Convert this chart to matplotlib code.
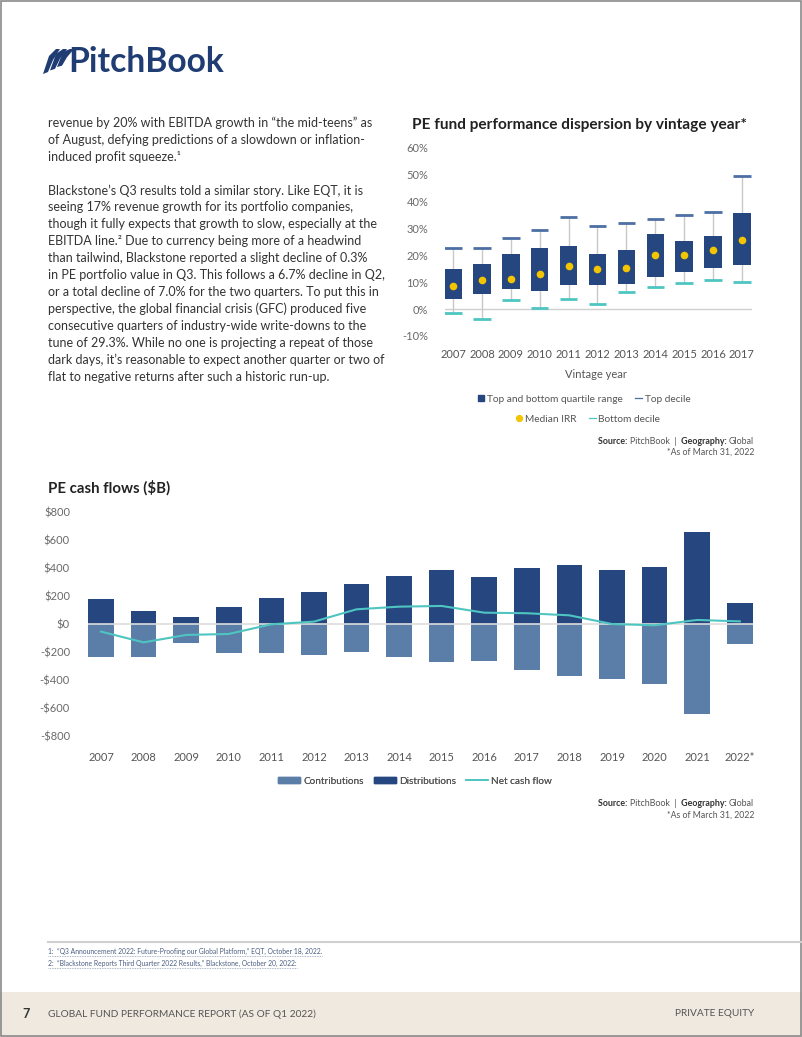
import matplotlib
matplotlib.use("Agg")
import matplotlib.pyplot as plt
from matplotlib.patches import Rectangle, Polygon, Patch
from matplotlib.lines import Line2D

# === Data: PE fund performance dispersion by vintage year (IRR %) ===
vintage_years = ["2007", "2008", "2009", "2010", "2011", "2012",
                 "2013", "2014", "2015", "2016", "2017"]
top_decile = [22.7, 22.7, 26.5, 29.4, 34.4, 30.9, 32.1, 33.6, 34.9, 36.0, 49.5]
top_quartile = [14.8, 16.8, 20.4, 22.7, 23.6, 20.7, 22.1, 27.8, 25.2, 27.2, 35.8]
median_irr = [8.6, 10.7, 11.1, 13.1, 16.0, 14.9, 15.4, 20.0, 20.0, 22.1, 25.6]
bottom_quartile = [3.7, 5.7, 7.5, 6.8, 8.8, 8.8, 9.4, 12.0, 13.8, 15.4, 16.3]
bottom_decile = [-1.6, -3.7, 3.5, 0.4, 3.8, 1.9, 6.5, 8.1, 9.6, 10.9, 10.1]
irr_ticks = [-10, 0, 10, 20, 30, 40, 50, 60]

# === Data: PE cash flows ($B) ===
cash_years = ["2007", "2008", "2009", "2010", "2011", "2012", "2013", "2014",
              "2015", "2016", "2017", "2018", "2019", "2020", "2021", "2022*"]
distributions = [179, 95, 55, 121, 186, 229, 286, 343,
                 388, 336, 402, 426, 388, 412, 660, 155]
contributions = [-236, -236, -136, -202, -202, -219, -195, -236,
                 -269, -260, -326, -369, -393, -424, -640, -140]
net_cash_flow = [-52, -129, -76, -69, 0, 19, 107, 126,
                 131, 83, 79, 64, 2, -7, 31, 21]
cash_ticks = [-800, -600, -400, -200, 0, 200, 400, 600, 800]

body_lines = [
    "revenue by 20% with EBITDA growth in \u201cthe mid-teens\u201d as",
    "of August, defying predictions of a slowdown or inflation-",
    "induced profit squeeze.\u00b9",
    "",
    "Blackstone\u2019s Q3 results told a similar story. Like EQT, it is",
    "seeing 17% revenue growth for its portfolio companies,",
    "though it fully expects that growth to slow, especially at the",
    "EBITDA line.\u00b2 Due to currency being more of a headwind",
    "than tailwind, Blackstone reported a slight decline of 0.3%",
    "in PE portfolio value in Q3. This follows a 6.7% decline in Q2,",
    "or a total decline of 7.0% for the two quarters. To put this in",
    "perspective, the global financial crisis (GFC) produced five",
    "consecutive quarters of industry-wide write-downs to the",
    "tune of 29.3%. While no one is projecting a repeat of those",
    "dark days, it\u2019s reasonable to expect another quarter or two of",
    "flat to negative returns after such a historic run-up.",
]

NAVY = "#26467f"
LIGHT = "#5b7ea8"
TEAL = "#4ec5c1"
YELLOW = "#f2c500"
TOPDEC = "#4d6fa3"
GREY = "#6a6a6a"
RED = "#e07070"
LOGO = "#1f3d73"

plt.rcParams["font.family"] = ["Lato", "DejaVu Sans"]

W, H = 802, 1037
fig = plt.figure(figsize=(W / 100, H / 100), dpi=100)
renderer = fig.canvas.get_renderer()


def box(x0, y0, x1, y1):
    # pixel box (top-left origin) -> figure fraction rect
    return [x0 / W, 1 - y1 / H, (x1 - x0) / W, (y1 - y0) / H]


# === Page layer (pixel coordinates) ===
page = fig.add_axes([0, 0, 1, 1])
page.set_xlim(0, W)
page.set_ylim(H, 0)
page.axis("off")

page.add_patch(Rectangle((0, 992), W, H - 992, color="#efe9df", lw=0))
page.add_patch(Rectangle((0.5, 0.5), W - 1.5, H - 1.5, fill=False, ec="#8a8a8a", lw=1.2))

# logo: three slanted page shapes + wordmark
for dx in (0, 7, 14):
    page.add_patch(Polygon([(43 + dx, 74 - dx * 0.5), (49 + dx, 56 - dx * 0.3),
                            (56 + dx, 49), (60 + dx, 49), (53 + dx, 60 - dx * 0.2),
                            (48 + dx, 72 - dx * 0.45)],
                           closed=True, color=LOGO, lw=0))
page.text(68, 61.5, "PitchBook", fontsize=24.2, fontweight="bold", color=LOGO,
          va="center", ha="left")

# body text
y = 122.7
for line in body_lines:
    if line:
        page.text(48, y, line, fontsize=9.0, color="#333333", va="center", ha="left")
    y += 16.95

# footnotes
page.plot([48, W], [942, 942], color="#d0d0d0", lw=1.5)
notes = ["1:  \u201cQ3 Announcement 2022: Future-Proofing our Global Platform,\u201d EQT, October 18, 2022.",
         "2:  \u201cBlackstone Reports Third Quarter 2022 Results,\u201d Blackstone, October 20, 2022:"]
for i, n in enumerate(notes):
    t = page.text(48, 951 + i * 12, n, fontsize=4.9, color="#4a5f80", va="center", ha="left")
    w = t.get_window_extent(renderer).width
    page.plot([48, 48 + w], [956 + i * 12, 956 + i * 12], color="#8fa0b8", lw=0.6,
              ls=(0, (1, 1)))

# footer
page.text(22, 1014, "7", fontsize=9, fontweight="bold", color="#333333", va="center")
page.text(48, 1014, "GLOBAL FUND PERFORMANCE REPORT (AS OF Q1 2022)", fontsize=7.3,
          color="#555555", va="center")
page.text(754, 1014, "PRIVATE EQUITY", fontsize=7.3, color="#555555", va="center", ha="right")

# titles & sources
page.text(412, 125, "PE fund performance dispersion by vintage year*", fontsize=11.1,
          fontweight="bold", color="#222222", va="center")
page.text(48, 488, "PE cash flows ($B)", fontsize=10.8, fontweight="bold",
          color="#222222", va="center")


def chain(x_right, y0, parts, size=6.4):
    # lay text pieces right to left so they join up
    x = x_right
    for txt, bold in reversed(parts):
        t = page.text(x, y0, txt, fontsize=size, va="center", ha="right",
                      fontweight="bold" if bold else "normal",
                      color="#333333" if bold else "#555555")
        x -= t.get_window_extent(renderer).width


def source(y0):
    chain(754, y0, [("Source: ", True), ("PitchBook  |  ", False),
                    ("Geography: ", True), ("Global", False)])
    page.text(754, y0 + 11, "*As of March 31, 2022", fontsize=6.3, color="#555555",
              va="center", ha="right")


source(441)
source(804)

# === Box chart ===
ax1 = fig.add_axes(box(445, 147.9, 752, 336))
xs = list(range(len(vintage_years)))
ax1.set_xlim(-0.28, 10.35)
ax1.set_ylim(-10, 60)
ax1.axhline(0, color="#d0d0d0", lw=1, zorder=0)
ax1.vlines(xs, bottom_decile, top_decile, color="#c8c8c8", lw=1, zorder=1)
heights = [t - b for t, b in zip(top_quartile, bottom_quartile)]
ax1.bar(xs, heights, bottom=bottom_quartile, width=0.6, color=NAVY, zorder=2)
ax1.hlines(top_decile, [x - 0.3 for x in xs], [x + 0.3 for x in xs], color=TOPDEC, lw=2, zorder=3)
ax1.hlines(bottom_decile, [x - 0.3 for x in xs], [x + 0.3 for x in xs], color=TEAL, lw=2, zorder=3)
ax1.plot(xs, median_irr, "o", color=YELLOW, ms=5.5, mec="none", zorder=4, clip_on=False)
ax1.set_xticks(xs)
ax1.set_xticklabels(vintage_years)
ax1.set_yticks(irr_ticks)
ax1.set_yticklabels([f"{v}%" for v in irr_ticks])
for lab, v in zip(ax1.get_yticklabels(), irr_ticks):
    lab.set_color(RED if v < 0 else GREY)
ax1.tick_params(axis="both", length=0, labelsize=8, colors=GREY)
ax1.tick_params(axis="y", pad=12)
ax1.tick_params(axis="x", pad=9.5, labelcolor="#555555")
for s in ax1.spines.values():
    s.set_visible(False)
ax1.patch.set_alpha(0)
page.text(596, 375, "Vintage year", fontsize=8, color="#555555", ha="center", va="center")

leg_kw = dict(loc="center", bbox_transform=fig.transFigure, frameon=False, fontsize=7.3,
              handlelength=0.7, handletextpad=0.25, columnspacing=1.2, labelcolor="#555555")
leg_a = page.legend(handles=[Line2D([], [], marker="s", ls="none", color=NAVY, ms=4.5),
                             Line2D([], [], color=TOPDEC, lw=0.9)],
                    labels=["Top and bottom quartile range", "Top decile"], ncol=2,
                    bbox_to_anchor=box(584, 399, 584, 399)[:2], **leg_kw)
page.add_artist(leg_a)
leg_b = page.legend(handles=[Line2D([], [], marker="o", ls="none", color=YELLOW, ms=4.2),
                             Line2D([], [], color=TEAL, lw=0.9)],
                    labels=["Median IRR", "Bottom decile"], ncol=2,
                    bbox_to_anchor=box(588, 419, 588, 419)[:2], **leg_kw)
page.add_artist(leg_b)

# === Cash flow chart ===
ax2 = fig.add_axes(box(88, 512.3, 753, 736.3))
cx = list(range(len(cash_years)))
ax2.set_xlim(-0.305, 15.31)
ax2.set_ylim(-800, 800)
ax2.bar(cx, distributions, width=0.6, color=NAVY, zorder=2)
ax2.bar(cx, contributions, width=0.6, color=LIGHT, zorder=2)
ax2.axhline(0, color="#dddddd", lw=1.2, zorder=3)
ax2.plot(cx, net_cash_flow, color=TEAL, lw=1.5, zorder=4)
ax2.set_xticks(cx)
ax2.set_xticklabels(cash_years)
ax2.set_yticks(cash_ticks)
ax2.set_yticklabels([f"${v}" if v >= 0 else f"-${-v}" for v in cash_ticks])
for lab, v in zip(ax2.get_yticklabels(), cash_ticks):
    lab.set_color(RED if v < 0 else GREY)
ax2.tick_params(axis="both", length=0, labelsize=8, colors=GREY)
ax2.tick_params(axis="y", pad=13)
ax2.tick_params(axis="x", pad=11.5, labelcolor="#555555")
for s in ax2.spines.values():
    s.set_visible(False)
ax2.patch.set_alpha(0)

leg_c = page.legend(handles=[Patch(color=LIGHT), Patch(color=NAVY),
                             Line2D([], [], color=TEAL, lw=1.2)],
                    labels=["Contributions", "Distributions", "Net cash flow"],
                    ncol=3, loc="center", bbox_to_anchor=box(415, 781, 415, 781)[:2],
                    bbox_transform=fig.transFigure, frameon=False, fontsize=7.2,
                    handlelength=2.2, handleheight=0.45, handletextpad=0.3,
                    columnspacing=1.0, labelcolor="#555555")
page.add_artist(leg_c)

fig.savefig("out.png", dpi=100)
